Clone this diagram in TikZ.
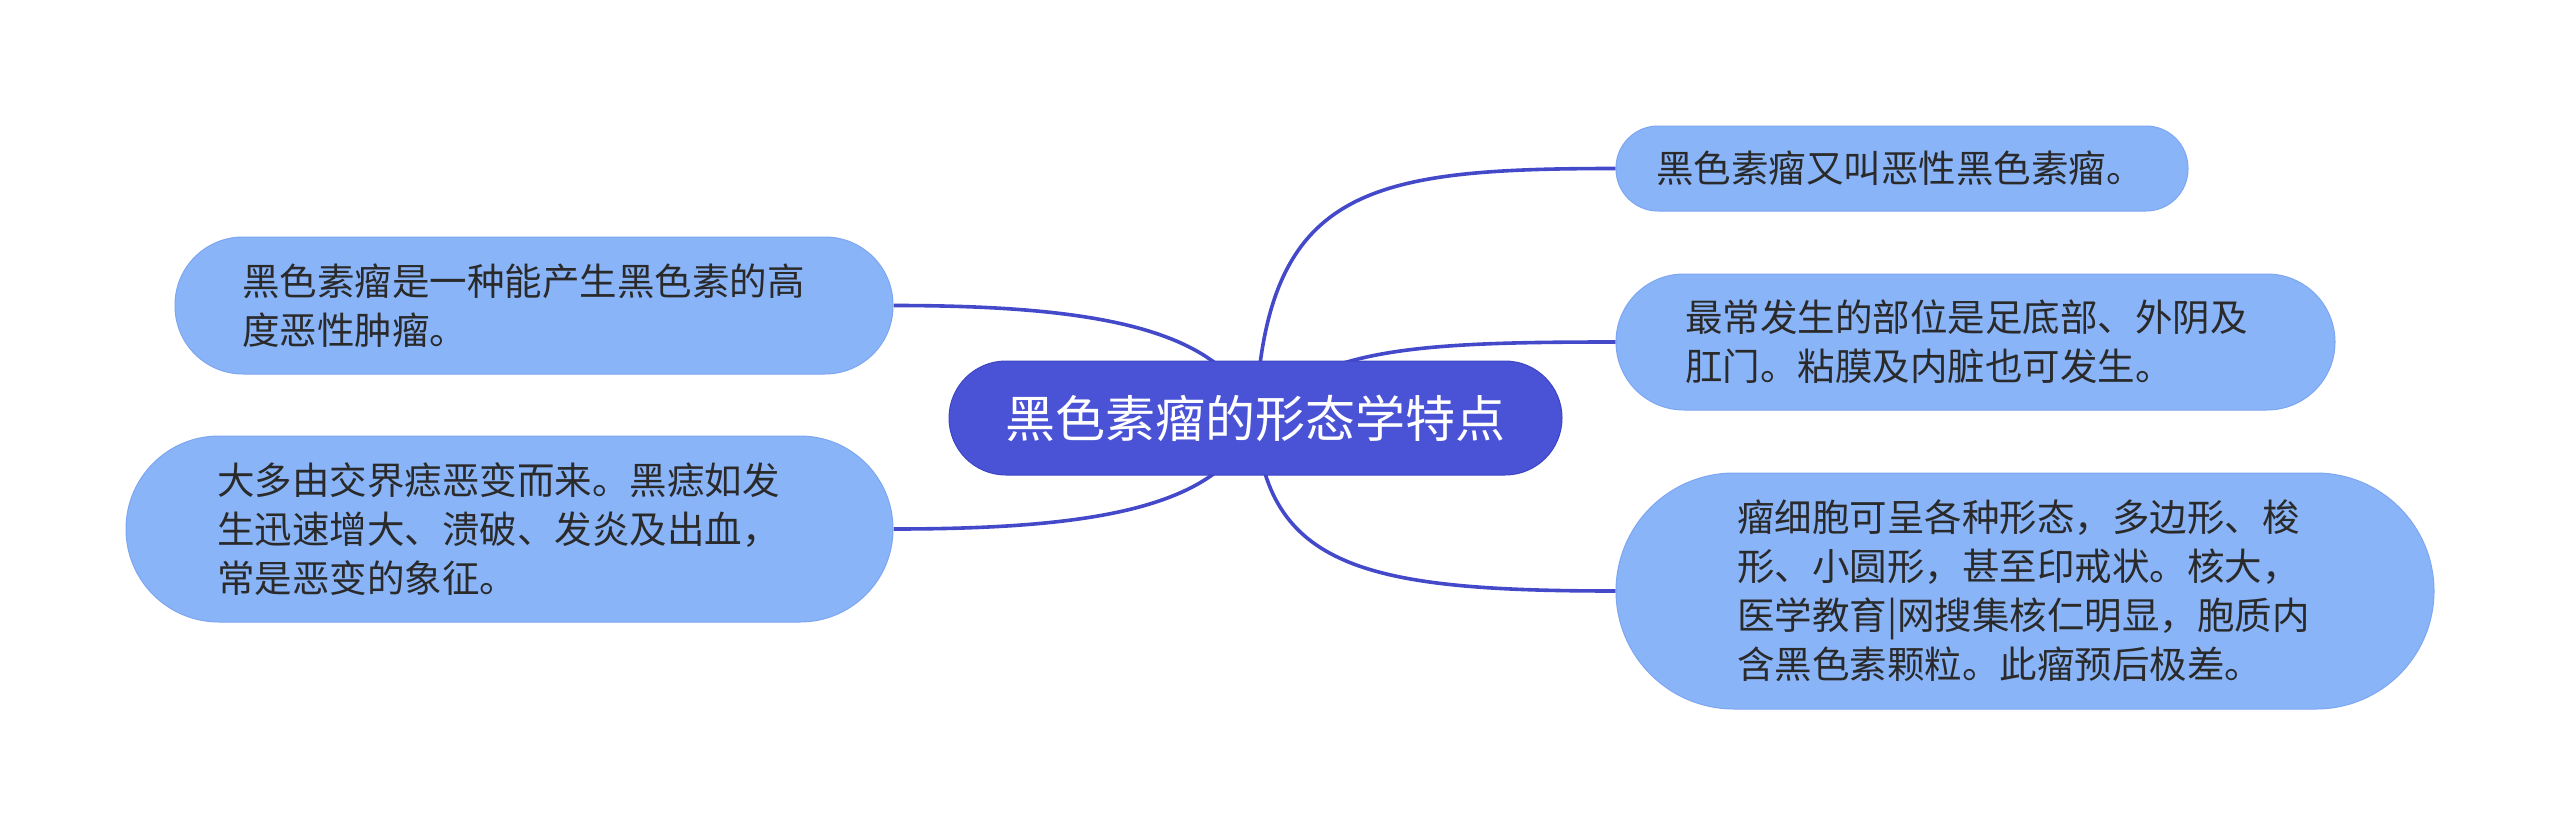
\documentclass[tikz,border=0pt]{standalone}
\usepackage{fontspec}
\newfontfamily\cjk{Noto Sans CJK SC}
\usetikzlibrary{backgrounds}
\definecolor{hubfill}{HTML}{4A52D6}
\definecolor{hubdraw}{HTML}{3E45C4}
\definecolor{leaffill}{HTML}{8AB4F8}
\definecolor{leafdraw}{HTML}{7DA6F2}
\definecolor{linkcol}{HTML}{4449CA}
\definecolor{txt}{HTML}{2A2A2A}
\begin{document}
\begin{tikzpicture}[x=1pt,y=-1pt,
  hub/.style={fill=hubfill, draw=hubdraw, line width=1pt, text=white, inner sep=0pt,
    minimum width=613pt, minimum height=114pt, rounded corners=57pt,
    font=\cjk\fontsize{50}{60}\selectfont},
  leaf/.style n args={4}{fill=leaffill, draw=leafdraw, line width=1pt, text=txt,
    inner xsep=0pt, inner ysep=0pt, align=left,
    minimum width=#1, minimum height=#2, rounded corners=#3, text width=#4,
    font=\cjk\fontsize{37.5}{49}\selectfont},
  link/.style={draw=linkcol, line width=3.6pt}]
\useasboundingbox (0,0) rectangle (2560,835);

\node[hub] (c) at (1255.5,418) {黑色素瘤的形态学特点};
\node[leaf={572pt}{85pt}{42pt}{492pt}] (n1) at (1902,168.5) {黑色素瘤又叫恶性黑色素瘤。};
\node[leaf={719pt}{136pt}{68pt}{581pt}] (n2) at (1975.5,342) {最常发生的部位是足底部、外阴及\\肛门。粘膜及内脏也可发生。};
\node[leaf={818pt}{236pt}{118pt}{576pt}] (n3) at (2025,591) {瘤细胞可呈各种形态，多边形、梭\\形、小圆形，甚至印戒状。核大，\\医学教育|网搜集核仁明显，胞质内\\含黑色素颗粒。此瘤预后极差。};
\node[leaf={718pt}{137pt}{68pt}{584pt}] (A) at (534,305.5) {黑色素瘤是一种能产生黑色素的高\\度恶性肿瘤。};
\node[leaf={767pt}{186pt}{93pt}{585pt}] (B) at (509.5,529) {大多由交界痣恶变而来。黑痣如发\\生迅速增大、溃破、发炎及出血，\\常是恶变的象征。};

\begin{scope}[on background layer]
\fill[white] (0,0) rectangle (2560,835);
\draw[link] (c.center) .. controls +(10,-230) and +(-250,0) .. (n1.west);
\draw[link] (c.center) .. controls +(60,-70) and +(-200,0) .. (n2.west);
\draw[link] (c.center) .. controls +(10,150) and +(-250,0) .. (n3.west);
\draw[link] (c.center) .. controls +(-30,-90) and +(200,0) .. (A.east);
\draw[link] (c.center) .. controls +(-30,90) and +(200,0) .. (B.east);
\end{scope}
\end{tikzpicture}
\end{document}
